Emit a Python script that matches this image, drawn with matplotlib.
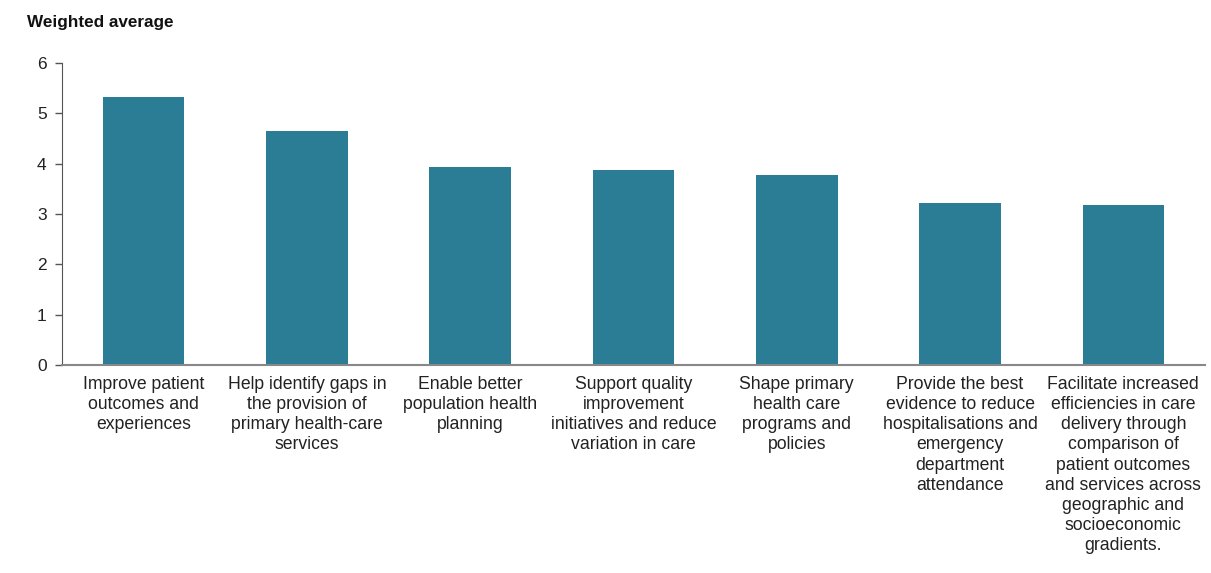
import matplotlib
matplotlib.use("Agg")
import matplotlib.pyplot as plt

categories = [
    "Improve patient\noutcomes and\nexperiences",
    "Help identify gaps in\nthe provision of\nprimary health-care\nservices",
    "Enable better\npopulation health\nplanning",
    "Support quality\nimprovement\ninitiatives and reduce\nvariation in care",
    "Shape primary\nhealth care\nprograms and\npolicies",
    "Provide the best\nevidence to reduce\nhospitalisations and\nemergency\ndepartment\nattendance",
    "Facilitate increased\nefficiencies in care\ndelivery through\ncomparison of\npatient outcomes\nand services across\ngeographic and\nsocioeconomic\ngradients.",
]
values = [5.33, 4.65, 3.94, 3.88, 3.78, 3.22, 3.18]
yticks = [0, 1, 2, 3, 4, 5, 6]

plt.rcParams['font.family'] = ['Liberation Sans', 'DejaVu Sans']

fig = plt.figure(figsize=(12.11, 5.73), dpi=100)
ax = fig.add_axes([62/1211, 208/573, (1205-62)/1211, (365-63)/573])

x = range(len(categories))
ax.bar(x, values, width=0.5, color="#2a7d95")
ax.set_xlim(-0.5, len(categories) - 0.5)
ax.set_ylim(0, 6)
ax.set_yticks(yticks)
ax.set_yticklabels([str(t) for t in yticks], fontsize=12.5, color="#222222")
ax.set_xticks(list(x))
ax.set_xticklabels(categories, fontsize=12.7, color="#222222", linespacing=1.24, va="top")
ax.tick_params(axis="x", length=0, pad=8)
ax.tick_params(axis="y", length=5, width=1, color="#555555", pad=6)
ax.spines["top"].set_visible(False)
ax.spines["right"].set_visible(False)
ax.spines["left"].set_color("#555555")
ax.spines["bottom"].set_color("#888888")
ax.spines["bottom"].set_linewidth(1.5)

fig.text(27/1211, 1 - 22/573, "Weighted average", fontsize=12.3, fontweight="bold",
         va="center", ha="left", color="#111111")

fig.savefig("out.png", dpi=100)
